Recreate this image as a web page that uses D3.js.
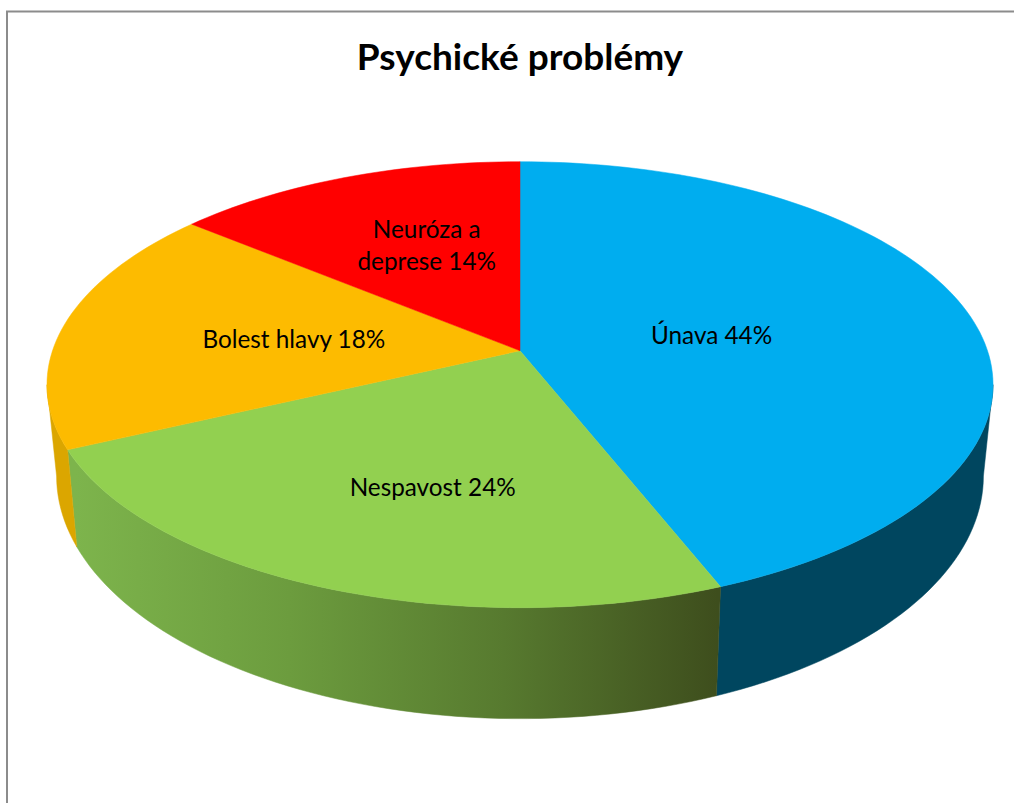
<!DOCTYPE html>
<html>
<head>
<meta charset="utf-8">
<title>Psychické problémy</title>
<script src="https://cdn.jsdelivr.net/npm/d3@7"></script>
<style>
	html, body { margin: 0; padding: 0; background: #fff; overflow: hidden; }
	text { font-family: Lato, "Open Sans", sans-serif; fill: #000; }
	.title { font-size: 37px; font-weight: 700; }
	.label { font-size: 24.3px; }
</style>
</head>
<body>
<div id="chart"></div>
<script>
// values, clockwise from 12 o'clock
const categories	= ["Únava", "Nespavost", "Bolest hlavy", "Neuróza a deprese"];
const values		= [44, 24, 18, 14];
const topColors		= ["#00adef", "#92d050", "#fdbb00", "#ff0000"];
const sideColors	= ["#00465f", "url(#green-side)", "#dba600", "#990000"];
const labelRadius	= [0.42, 0.60, 0.49, 0.56];
const labelTurn		= [1.2, -5.1, -1.3, 2.6];	// degrees off the slice middle
const labelBreak	= [0, 0, 0, 2];				// words on first line, 0 = no wrap
const greenStops	= ["#7db44c", "#6c9c3e", "#577a2f", "#3e4e1d"];

const width		= 1014;
const height	= 803;
const tilt		= 0.1525;	// perspective of the disc
const steps		= 240;

let svg = d3.select("#chart").append("svg")
	.attr("width", width)
	.attr("height", height);

let defs = svg.append("defs");
defs.append("linearGradient")
	.attr("id", "green-side")
	.attr("gradientUnits", "userSpaceOnUse")
	.attr("x1", 76).attr("x2", 717).attr("y1", 0).attr("y2", 0)
	.selectAll("stop")
	.data(greenStops)
	.enter().append("stop")
		.attr("offset", (o, i) => i / (greenStops.length - 1))
		.attr("stop-color", (o) => o);

// chart frame, only left and top edges are in the picture
svg.append("path")
	.attr("d", "M7,803V11.5H1014")
	.attr("fill", "none")
	.attr("stroke", "#8c8c8c")
	.attr("stroke-width", 2);

svg.append("text")
	.attr("class", "title")
	.attr("x", 520)
	.attr("y", 70)
	.attr("text-anchor", "middle")
	.text("Psychické problémy");

// top and bottom disc, u right and v towards the viewer
let topX	= d3.scaleLinear().domain([-1, 1]).range([520 - 467.5, 520 + 467.5]);
let topY	= d3.scaleLinear().domain([-1, 1]).range([350.7 - 217.8, 350.7 + 217.8]);
let botX	= d3.scaleLinear().domain([-1, 1]).range([520 - 458, 520 + 458]);
let botY	= d3.scaleLinear().domain([-1, 1]).range([439 - 237, 439 + 237]);

function project(angle, r, sx, sy) {
	let u = r * Math.sin(angle);
	let v = -r * Math.cos(angle);
	let w = 1 - tilt * v;
	return [sx(u / w), sy(v / w)];
}

let line = d3.line();

function arcAngles(a0, a1) {
	let n = Math.max(2, Math.ceil((a1 - a0) / (2 * Math.PI) * steps));
	return d3.range(n + 1).map((i) => a0 + (a1 - a0) * i / n);
}

let slices = d3.pie().sort(null)(values);

// silhouette angles of the cylinder, only the front between them is seen
let frontStart	= Math.PI / 2 + Math.asin(tilt);
let frontEnd	= 3 * Math.PI / 2 - Math.asin(tilt);

svg.append("g")
	.attr("id", "sides")
	.selectAll("path")
	.data(slices.filter((o) => o.endAngle > frontStart && o.startAngle < frontEnd))
	.enter().append("path")
		.attr("d", (o) => {
			let angles = arcAngles(Math.max(o.startAngle, frontStart), Math.min(o.endAngle, frontEnd));
			let upper = angles.map((a) => project(a, 1, topX, topY));
			let lower = angles.reverse().map((a) => project(a, 1, botX, botY));
			return line(upper.concat(lower)) + "Z";
		})
		.attr("fill", (o) => sideColors[o.index])
		.attr("stroke", (o) => sideColors[o.index])
		.attr("stroke-width", 0.5);

svg.append("g")
	.attr("id", "tops")
	.selectAll("path")
	.data(slices)
	.enter().append("path")
		.attr("d", (o) => {
			let rim = arcAngles(o.startAngle, o.endAngle).map((a) => project(a, 1, topX, topY));
			return line([project(0, 0, topX, topY)].concat(rim)) + "Z";
		})
		.attr("fill", (o) => topColors[o.index])
		.attr("stroke", (o) => topColors[o.index])
		.attr("stroke-width", 0.5);

let labels = svg.append("g")
	.attr("id", "labels")
	.selectAll("text")
	.data(slices)
	.enter().append("text")
		.attr("class", "label")
		.attr("text-anchor", "middle")
		.attr("transform", (o) => {
			let mid = (o.startAngle + o.endAngle) / 2 + labelTurn[o.index] * Math.PI / 180;
			return "translate(" + project(mid, labelRadius[o.index], topX, topY) + ")";
		});

labels.selectAll("tspan")
	.data((o) => {
		let words = (categories[o.index] + " " + values[o.index] + "%").split(" ");
		let cut = labelBreak[o.index];
		return cut ? [words.slice(0, cut).join(" "), words.slice(cut).join(" ")] : [words.join(" ")];
	})
	.enter().append("tspan")
		.attr("x", 0)
		.attr("y", (o, i, nodes) => (i - (nodes.length - 1) / 2) * 32 + 8)
		.text((o) => o);
</script>
</body>
</html>
